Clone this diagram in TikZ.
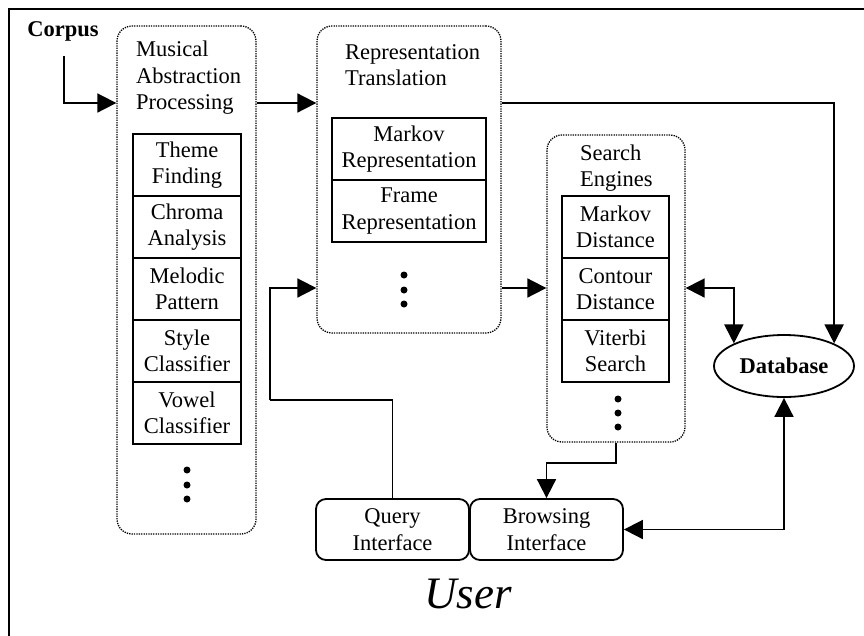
\documentclass[tikz,border=0pt]{standalone}
\usepackage{fontspec}
\setmainfont{Liberation Serif}
\usetikzlibrary{arrows.meta,shapes.geometric}
\begin{document}
\begin{tikzpicture}[x=1pt,y=-1pt,
  every node/.style={font=\fontsize{22.5}{26.5}\selectfont, inner sep=0pt},
  group/.style={draw, line width=1.3pt, dash pattern=on 1.3pt off 1.1pt, rounded corners=15pt},
  cell/.style={draw, line width=1.8pt, align=center, minimum height=62pt},
  title/.style={align=left, anchor=west},
  iface/.style={draw, line width=1.8pt, rounded corners=10pt, align=center, minimum width=153pt, minimum height=61pt},
  arr/.style={line width=1.8pt, -{Triangle[length=19pt,width=19pt]}},
  arrtwo/.style={line width=1.8pt, {Triangle[length=19pt,width=19pt]}-{Triangle[length=19pt,width=19pt]}},
  vdot/.style={fill=black}
]
\useasboundingbox (0,0) rectangle (864,635);
\draw[line width=2pt] (9,640) -- (9,9) -- (870,9);

% groups
\node[group, minimum width=139pt, minimum height=508pt] (g1) at (186.5,280) {};
\node[group, minimum width=184pt, minimum height=307pt] (g2) at (409,179.5) {};
\node[group, minimum width=138pt, minimum height=307pt] (g3) at (616,288.5) {};

% titles
\node[title] (t1) at (136,78) {Musical\\Abstraction\\Processing};
\node[title] (t2) at (345,65) {Representation\\Translation};
\node[title] (t3) at (580,168) {Search\\Engines};

% cells group 1
\node[cell, minimum width=108pt] (c11) at (187,165) {Theme\\Finding};
\node[cell, minimum width=108pt] (c12) at (187,227) {Chroma\\Analysis};
\node[cell, minimum width=108pt] (c13) at (187,289) {Melodic\\Pattern};
\node[cell, minimum width=108pt] (c14) at (187,351) {Style\\Classifier};
\node[cell, minimum width=108pt] (c15) at (187,413) {Vowel\\Classifier};
% cells group 2
\node[cell, minimum width=154pt] (c21) at (409,149) {Markov\\Representation};
\node[cell, minimum width=154pt] (c22) at (409,211) {Frame\\Representation};
% cells group 3
\node[cell, minimum width=107pt] (c31) at (615.5,227) {Markov\\Distance};
\node[cell, minimum width=107pt] (c32) at (615.5,289) {Contour\\Distance};
\node[cell, minimum width=107pt] (c33) at (615.5,351) {Viterbi\\Search};

% dots
\foreach \y in {470,485,499} \fill[vdot] (187,\y) circle (3.5pt);
\foreach \y in {275,290,304} \fill[vdot] (404,\y) circle (3.5pt);
\foreach \y in {399,413,427} \fill[vdot] (618,\y) circle (3.5pt);

% other nodes
\node[font=\fontsize{22.5}{26.5}\selectfont\bfseries] (corpus) at (63,31) {Corpus};
\node[draw, ellipse, line width=1.8pt, minimum width=140pt, minimum height=62pt,
      font=\fontsize{22.5}{26.5}\selectfont\bfseries] (db) at (784,366) {Database};
\node[iface] (q) at (392.5,529.5) {Query\\Interface};
\node[iface] (b) at (546.5,529.5) {Browsing\\Interface};
\node[font=\fontsize{45}{50}\selectfont\itshape] (user) at (468,594) {User};

% helper coordinates
\coordinate (c0) at (64,56);
\coordinate (ya) at (0,103);
\coordinate (yb) at (0,288);
\coordinate (qbend) at (270,400);

% connectors
\draw[arr] (c0) |- (g1.west |- ya);
\draw[arr] (g1.east |- ya) -- (g2.west |- ya);
\draw[arr] (g2.east |- ya) -| (db.north east);
\draw[arr] (g2.east |- yb) -- (g3.west |- yb);
\draw[arrtwo] (g3.east |- yb) -| (db.north west);
\draw[line width=1.8pt] (q.north) |- (qbend);
\draw[arr] (qbend) |- (g2.west |- yb);
\draw[arr] (g3.south) -- ++(0,20) -| (b.north);
\draw[arrtwo] (db.south) |- (b.east);
\end{tikzpicture}
\end{document}
